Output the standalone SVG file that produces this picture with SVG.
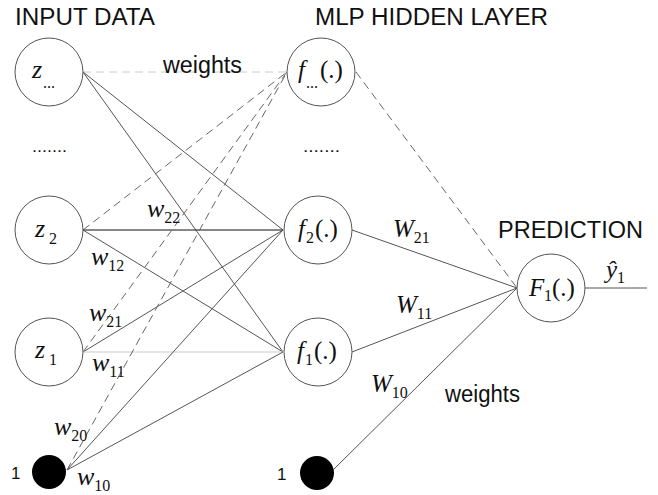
<svg xmlns="http://www.w3.org/2000/svg" width="658" height="495" viewBox="0 0 658 495">
<style>
.node{fill:#fff;stroke:#555;stroke-width:1}
.bias{fill:#000;stroke:none}
.ln{stroke:#555;stroke-width:1;fill:none}
.dk{stroke:#111;stroke-width:1;fill:none}
.lt{stroke:#ccc;stroke-width:1.2;fill:none}
.ds{stroke:#666;stroke-width:1;fill:none;stroke-dasharray:8,5}
.dsl{stroke:#ccc;stroke-width:1;fill:none;stroke-dasharray:8,5}
.hd{font-family:"Liberation Sans",Arial,sans-serif;font-size:23.5px;fill:#111}
.sans{font-family:"Liberation Sans",Arial,sans-serif;fill:#111}
.m{font-family:"Liberation Serif","Times New Roman",serif;font-size:25px;font-style:italic;fill:#111}
.w{font-family:"Liberation Serif","Times New Roman",serif;font-size:26px;font-style:italic;fill:#111}
.s{font-family:"Liberation Serif","Times New Roman",serif;font-size:16px;font-style:normal;fill:#111}
.mr{font-family:"Liberation Serif","Times New Roman",serif;font-size:25px;font-style:normal;fill:#111}
</style>
<rect width="658" height="495" fill="#fff"/>
<g id="connectors">
<line class="dsl" x1="83" y1="72" x2="287" y2="72"/>
<line class="ln" x1="83" y1="72" x2="283" y2="230"/>
<line class="ln" x1="83" y1="72" x2="283" y2="352"/>
<line class="ds" x1="83" y1="230" x2="287" y2="72"/>
<line class="dk" x1="83" y1="230" x2="283" y2="230"/>
<line class="ln" x1="83" y1="230" x2="283" y2="352"/>
<line class="ds" x1="83" y1="352" x2="287" y2="72"/>
<line class="ln" x1="83" y1="352" x2="283" y2="230"/>
<line class="lt" x1="83" y1="352" x2="283" y2="352"/>
<line class="ds" x1="67" y1="470" x2="287" y2="72"/>
<line class="ln" x1="67" y1="470" x2="283" y2="230"/>
<line class="ln" x1="67" y1="470" x2="283" y2="352"/>
<line class="ds" x1="356" y1="72" x2="517" y2="288"/>
<line class="ln" x1="352" y1="230" x2="517" y2="288"/>
<line class="ln" x1="352" y1="352" x2="517" y2="288"/>
<line class="ln" x1="333" y1="470" x2="517" y2="288"/>
<line class="ln" x1="585" y1="288" x2="647" y2="288"/>
</g>
<g id="titles">
<text class="hd" x="15" y="25" textLength="140" lengthAdjust="spacingAndGlyphs">INPUT DATA</text>
<text class="hd" x="315" y="25" textLength="233" lengthAdjust="spacingAndGlyphs">MLP HIDDEN LAYER</text>
<text class="hd" x="498" y="238" textLength="145" lengthAdjust="spacingAndGlyphs">PREDICTION</text>
<text class="hd" x="163" y="73" textLength="79" lengthAdjust="spacingAndGlyphs">weights</text>
<text class="hd" x="445" y="402" textLength="75" lengthAdjust="spacingAndGlyphs">weights</text>
<text class="sans" x="32" y="152" font-size="16" textLength="35" lengthAdjust="spacingAndGlyphs">.......</text>
<text class="sans" x="303" y="152" font-size="16" textLength="37" lengthAdjust="spacingAndGlyphs">.......</text>
</g>
<g id="z_dots">
<circle class="node" cx="49" cy="72" r="34"/>
<text class="w" x="32" y="78">z</text>
<text class="s" x="43" y="88" font-size="13">...</text>
</g>
<g id="z2">
<circle class="node" cx="49" cy="230" r="34"/>
<text class="w" x="35" y="237">z</text>
<text class="s" x="49" y="244" font-size="18">2</text>
</g>
<g id="z1">
<circle class="node" cx="49" cy="352" r="34"/>
<text class="w" x="35" y="358">z</text>
<text class="s" x="49" y="365" font-size="18">1</text>
</g>
<g id="bias_in">
<circle class="bias" cx="49" cy="472" r="17"/>
<text class="sans" x="11" y="479" font-size="17">1</text>
</g>
<g id="f_dots">
<circle class="node" cx="321" cy="72" r="34"/>
<text class="m" x="298" y="78">f</text>
<text class="s" x="306" y="88" font-size="13">...</text>
<text class="mr" x="320" y="78">(.)</text>
</g>
<g id="f2">
<circle class="node" cx="318" cy="230" r="34"/>
<text class="m" x="298" y="237">f</text>
<text class="s" x="306" y="243">2</text>
<text class="mr" x="315" y="237">(.)</text>
</g>
<g id="f1">
<circle class="node" cx="318" cy="352" r="34"/>
<text class="m" x="297" y="359">f</text>
<text class="s" x="305" y="365">1</text>
<text class="mr" x="314" y="359">(.)</text>
</g>
<g id="bias_hidden">
<circle class="bias" cx="317" cy="473" r="17"/>
<text class="sans" x="277" y="480" font-size="17">1</text>
</g>
<g id="F1">
<circle class="node" cx="551" cy="288" r="34"/>
<text class="m" x="529" y="296">F</text>
<text class="s" x="544" y="301">1</text>
<text class="mr" x="552" y="296">(.)</text>
</g>
<g id="output_label">
<text class="m" x="606" y="278">ŷ<tspan class="s" dy="5">1</tspan></text>
</g>
<g id="weight_labels">
<text class="w" x="147" y="217">w<tspan class="s" dy="6">22</tspan></text>
<text class="w" x="91" y="265">w<tspan class="s" dy="6">12</tspan></text>
<text class="w" x="89" y="321">w<tspan class="s" dy="6">21</tspan></text>
<text class="w" x="92" y="371">w<tspan class="s" dy="6">11</tspan></text>
<text class="w" x="54" y="435">w<tspan class="s" dy="6">20</tspan></text>
<text class="w" x="77" y="485">w<tspan class="s" dy="6">10</tspan></text>
<text class="m" x="393" y="237">W<tspan class="s" dy="6">21</tspan></text>
<text class="m" x="396" y="313">W<tspan class="s" dy="6">11</tspan></text>
<text class="m" x="371" y="392">W<tspan class="s" dy="6">10</tspan></text>
</g>
</svg>
